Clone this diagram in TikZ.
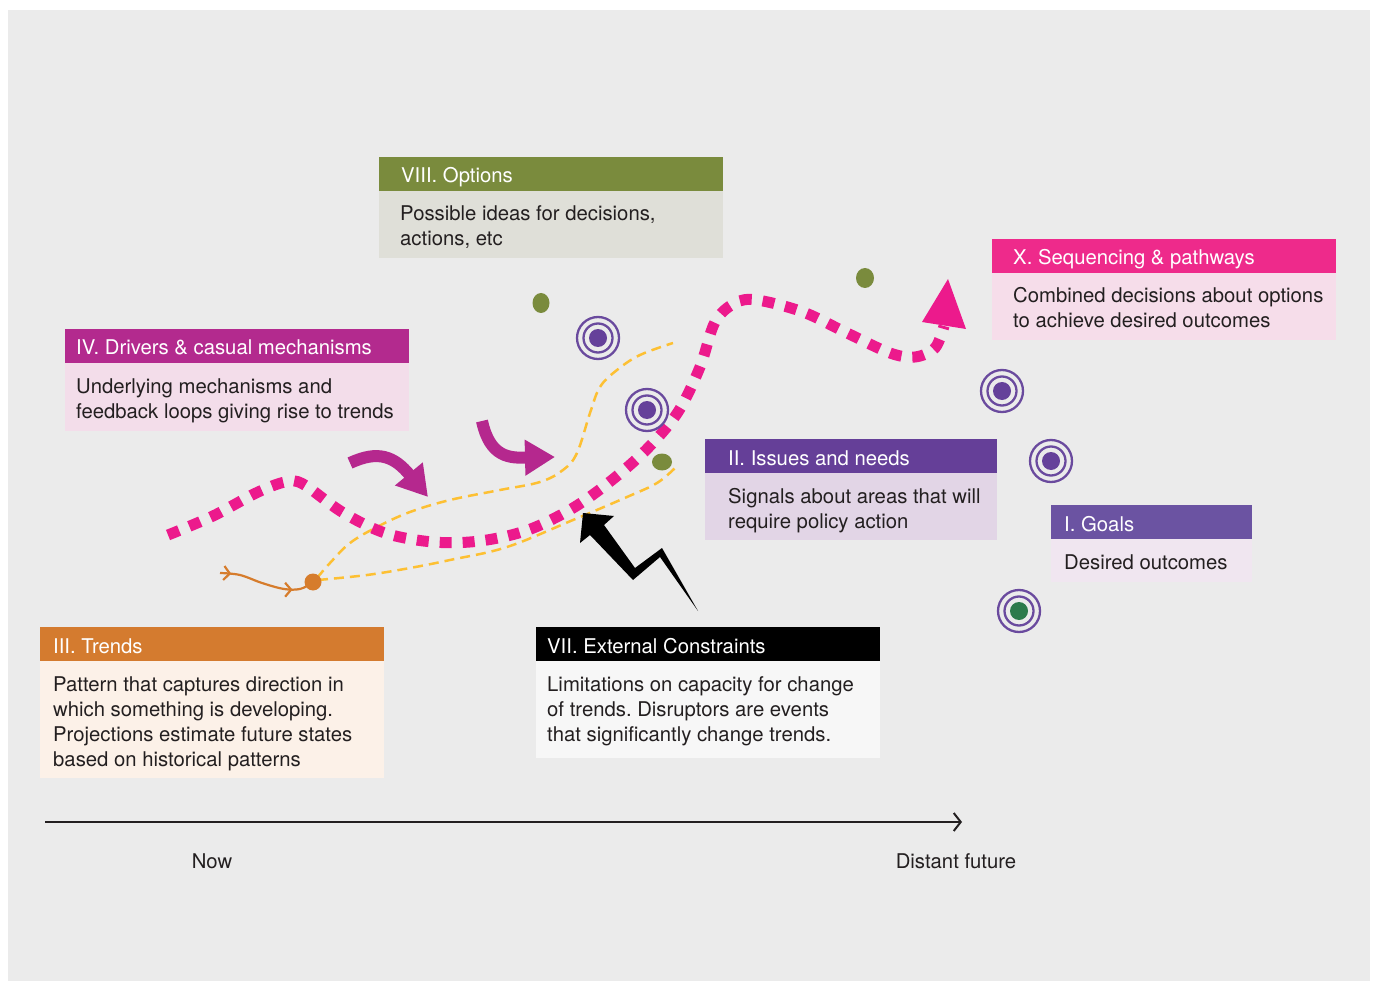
\documentclass[tikz,border=0pt]{standalone}
\usepackage{fontspec}
\setmainfont{TeX Gyre Heros}
\frenchspacing
\usetikzlibrary{arrows.meta,decorations.markings}
\definecolor{bgcol}{HTML}{EBEBEB}
\definecolor{txtcol}{HTML}{231F20}
\definecolor{olivehd}{HTML}{7A8B3D}
\definecolor{olivebd}{HTML}{DFDFD8}
\definecolor{maghd}{HTML}{B32A8E}
\definecolor{magbd}{HTML}{F3DDEA}
\definecolor{purhd}{HTML}{653F98}
\definecolor{purbd}{HTML}{E2D5E6}
\definecolor{goalhd}{HTML}{6B53A2}
\definecolor{goalbd}{HTML}{F0E6F0}
\definecolor{pinkhd}{HTML}{EE2A8B}
\definecolor{pinkbd}{HTML}{F6DDEA}
\definecolor{orghd}{HTML}{D47B2F}
\definecolor{orgbd}{HTML}{FCF1E8}
\definecolor{blkbd}{HTML}{F7F7F7}
\definecolor{pinkdot}{HTML}{EC1A8C}
\definecolor{yel}{HTML}{FDC033}
\definecolor{orgline}{HTML}{D67C2C}
\definecolor{magarrow}{HTML}{B5288E}
\definecolor{ringcol}{HTML}{6A4A9E}
\definecolor{ringdot}{HTML}{65419A}
\definecolor{greendot}{HTML}{2C7A4B}
\begin{document}
\begin{tikzpicture}[x=1pt,y=-1pt,
  boxbg/.style={anchor=north west, inner sep=0pt, outer sep=0pt, draw=none},
  htext/.style={anchor=base west, inner sep=0pt, text=white, font=\fontsize{20.3}{25}\selectfont},
  btext/.style={anchor=base west, inner sep=0pt, text=txtcol, align=left, font=\fontsize{20.3}{25}\selectfont},
  axtext/.style={anchor=base, inner sep=0pt, text=txtcol, font=\fontsize{20.3}{25}\selectfont},
  pinkpath/.style={draw=pinkdot, line width=11pt, dash pattern=on 12pt off 11pt},
  yelpath/.style={draw=yel, line width=2.5pt, dash pattern=on 10pt off 6pt},
  magline/.style={draw=magarrow, line width=12pt, -{Triangle[length=30pt,width=34pt]}},
  olivedot/.style={fill=olivehd},
  ringtarget/.pic={
    \draw[ringcol, line width=2.3pt] (0,0) circle[radius=21pt] (0,0) circle[radius=14.5pt];
    \fill[#1] (0,0) circle[radius=9pt];
  }
]
\useasboundingbox (0,0) rectangle (1373,981);
\fill[white] (0,0) rectangle (1373,981);
\fill[bgcol] (8,10) rectangle (1370,981);

% boxes (multi-line text nodes are anchored at the baseline of their last line)
\node[boxbg, fill=olivehd, minimum width=344pt, minimum height=34pt] (h8) at (379,157) {};
\node[boxbg, fill=olivebd, minimum width=344pt, minimum height=67pt] (b8) at (379,191) {};
\node[htext] (h8t) at (401,183) {VIII. Options};
\node[btext] (b8t) at (400,246) {Possible ideas for decisions,\\actions, etc};

\node[boxbg, fill=maghd, minimum width=344pt, minimum height=34pt] (h4) at (65,329) {};
\node[boxbg, fill=magbd, minimum width=344pt, minimum height=68pt] (b4) at (65,363) {};
\node[htext] (h4t) at (76,355) {IV. Drivers \& casual mechanisms};
\node[btext] (b4t) at (76,418) {Underlying mechanisms and\\feedback loops giving rise to trends};

\node[boxbg, fill=purhd, minimum width=292pt, minimum height=34pt] (h2) at (705,439) {};
\node[boxbg, fill=purbd, minimum width=292pt, minimum height=67pt] (b2) at (705,473) {};
\node[htext] (h2t) at (728,465) {II. Issues and needs};
\node[btext] (b2t) at (728,528) {Signals about areas that will\\require policy action};

\node[boxbg, fill=goalhd, minimum width=201pt, minimum height=34pt] (h1) at (1051,505) {};
\node[boxbg, fill=goalbd, minimum width=201pt, minimum height=43pt] (b1) at (1051,539) {};
\node[htext] (h1t) at (1064,531) {I. Goals};
\node[btext] (b1t) at (1064,569) {Desired outcomes};

\node[boxbg, fill=pinkhd, minimum width=344pt, minimum height=34pt] (h10) at (992,239) {};
\node[boxbg, fill=pinkbd, minimum width=344pt, minimum height=67pt] (b10) at (992,273) {};
\node[htext] (h10t) at (1013,265) {X. Sequencing \& pathways};
\node[btext] (b10t) at (1013,328) {Combined decisions about options\\to achieve desired outcomes};

\node[boxbg, fill=orghd, minimum width=344pt, minimum height=34pt] (h3) at (40,627) {};
\node[boxbg, fill=orgbd, minimum width=344pt, minimum height=117pt] (b3) at (40,661) {};
\node[htext] (h3t) at (53,653) {III. Trends};
\node[btext] (b3t) at (53,766) {Pattern that captures direction in\\which something is developing.\\Projections estimate future states\\based on historical patterns};

\node[boxbg, fill=black, minimum width=344pt, minimum height=34pt] (h7) at (536,627) {};
\node[boxbg, fill=blkbd, minimum width=344pt, minimum height=97pt] (b7) at (536,661) {};
\node[htext] (h7t) at (547,653) {VII. External Constraints};
\node[btext] (b7t) at (547,741) {Limitations on capacity for change\\of trends. Disruptors are events\\that significantly change trends.};

% time axis
\coordinate (ax0) at (45,822);
\coordinate (ax1) at (962,822);
\draw[line width=2pt, txtcol, -{Straight Barb[length=7pt,width=18pt]}] (ax0) -- (ax1);
\node[axtext] (now) at (212,868) {Now};
\node[axtext] (fut) at (956,868) {Distant future};

% yellow dashed projections
\draw[yelpath] plot[smooth, tension=0.6] coordinates {(317,578) (330,563) (350,543) (377,527) (410,512) (450,500) (500,490) (540,482) (563,470) (577,453) (590,413) (600,387) (617,370) (640,355) (673,343)};
\draw[yelpath] plot[smooth, tension=0.6] coordinates {(318,580) (367,575) (410,568) (450,560) (507,547) (573,520) (627,497) (657,483) (675,468)};

% pink pathway
\draw[pinkpath] plot[smooth, tension=0.55] coordinates {(168,535) (213,516) (256,493) (285,482) (303,484) (342,512) (385,533) (433,542) (480,541) (528,530) (573,508) (612,480) (648,448) (678,412) (700,367) (715,322) (735,303) (757,300) (803,312) (847,333) (890,353) (915,357) (935,348) (944,326)};
\fill[pinkdot] (948,279) -- (966,329) -- (922,322) -- cycle;

% orange trend line
\draw[orgline, line width=2.2pt,
  postaction={decorate},
  decoration={markings,
    mark=at position 0.12 with {\arrow{Straight Barb[length=6pt,width=14pt]}},
    mark=at position 0.8 with {\arrow{Straight Barb[length=6pt,width=14pt]}}}]
  plot[smooth, tension=0.6] coordinates {(220,573) (240,575) (262,583) (284,589) (300,589) (310,584)};
\fill[orgline] (313,582) circle[radius=8.5pt];

% magenta driver arrows
\draw[magline] (350,463) .. controls (378,450) and (394,456) .. (428,497);
\draw[magline] (482,421) .. controls (490,458) and (510,458) .. (555,457);

% lightning
\fill[black] (583,513) -- (614,516) -- (604,525) -- (635,568) -- (662,548) -- (698,611) -- (660,557) -- (633,580) -- (590,535) -- (580,543) -- cycle;

% olive dots
\fill[olivedot] (541,303) ellipse[x radius=8.5pt, y radius=10pt];
\fill[olivedot] (865,278) ellipse[x radius=9pt, y radius=10pt];
\fill[olivedot] (662,462) ellipse[x radius=10pt, y radius=8.5pt];

% targets
\pic at (598,338) {ringtarget=ringdot};
\pic at (647,410) {ringtarget=ringdot};
\pic at (1002,391) {ringtarget=ringdot};
\pic at (1051,461) {ringtarget=ringdot};
\pic at (1019,611) {ringtarget=greendot};
\end{tikzpicture}
\end{document}
